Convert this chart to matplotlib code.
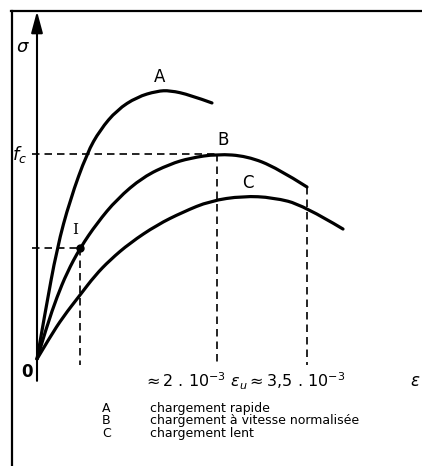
import matplotlib.pyplot as plt
from matplotlib.path import Path
from matplotlib.patches import PathPatch

# deformation (unites arbitraires, pic de B = 2) et contrainte (sigma / f_c)
eps_A = [0, 0.089, 0.222, 0.367, 0.556, 0.7, 0.889, 1.111, 1.333, 1.478, 1.7, 1.944]
sig_A = [0, 0.224, 0.541, 0.776, 1.005, 1.117, 1.215, 1.278, 1.307, 1.31, 1.288, 1.249]

eps_B = [0, 0.111, 0.222, 0.333, 0.478, 0.667, 0.889, 1.178, 1.478, 1.7, 2.0, 2.333, 2.667, 3.0]
sig_B = [0, 0.162, 0.303, 0.421, 0.541, 0.663, 0.78, 0.888, 0.951, 0.98, 1.0, 0.99, 0.932, 0.839]

eps_C = [0, 0.144, 0.289, 0.478, 0.644, 0.811, 1.033, 1.333, 1.622, 1.922, 2.289, 2.622, 2.956, 3.4]
sig_C = [0, 0.107, 0.205, 0.312, 0.407, 0.483, 0.566, 0.654, 0.717, 0.771, 0.795, 0.788, 0.751, 0.634]

eps_I, sig_I = 0.478, 0.541
eps_peak, f_c = 2.0, 1.0
eps_u, sig_u = 3.0, 0.839

legende = [("A", "chargement rapide"),
           ("B", "chargement à vitesse normalisée"),
           ("C", "chargement lent")]


def courbe_lisse(x, y):
    # spline quadratique passant par les milieux des segments
    pts = list(zip(x, y))
    verts = [pts[0]]
    codes = [Path.MOVETO]
    for i in range(1, len(pts) - 1):
        mid = ((pts[i][0] + pts[i + 1][0]) / 2, (pts[i][1] + pts[i + 1][1]) / 2)
        if i == len(pts) - 2:
            mid = pts[i + 1]
        verts += [pts[i], mid]
        codes += [Path.CURVE3, Path.CURVE3]
    return Path(verts, codes)


fig = plt.figure(figsize=(4.22, 4.66), dpi=100)
ax = fig.add_axes([0, 0, 1, 1])
ax.set_xlim(-37 / 90, 385 / 90)
ax.set_ylim(-(466 - 359) / 205, 359 / 205)
ax.axis("off")

# cadre
fig.add_artist(plt.Line2D([12 / 422, 12 / 422], [0, 1 - 11 / 466], color="black", lw=1.6))
fig.add_artist(plt.Line2D([11 / 422, 1], [1 - 11 / 466, 1 - 11 / 466], color="black", lw=1.6))

# axes avec fleches
ax.annotate("", xy=(0, 1.71), xytext=(0, -0.12),
            arrowprops=dict(arrowstyle="-|>,head_length=1.3,head_width=0.35", color="black", lw=1.5))
ax.annotate("", xy=(4.36, 0), xytext=(-0.17, 0),
            arrowprops=dict(arrowstyle="-|>,head_length=1.3,head_width=0.3", color="black", lw=1.5))

# courbes
for e, s in [(eps_A, sig_A), (eps_B, sig_B), (eps_C, sig_C)]:
    ax.add_patch(PathPatch(courbe_lisse(e, s), fill=False, color="black", lw=2.3, capstyle="round"))

# pointilles
dash = dict(color="black", lw=1.2, dashes=(4.5, 3))
ax.plot([-0.05, eps_peak], [f_c, f_c], **dash)
ax.plot([eps_peak, eps_peak], [f_c, -0.03], **dash)
ax.plot([eps_u, eps_u], [sig_u, -0.03], **dash)
ax.plot([-0.05, eps_I], [sig_I, sig_I], **dash)
ax.plot([eps_I, eps_I], [sig_I, -0.03], **dash)
ax.plot([eps_I], [sig_I], "o", color="black", ms=5, mfc="black")

# textes
ax.text(-0.16, 1.52, r"$\sigma$", fontsize=13, ha="center", va="center")
ax.text(-0.19, 1.0, r"$f_c$", fontsize=13, ha="center", va="center")
ax.text(0.422, 0.63, "I", fontsize=11, family="DejaVu Serif", ha="center", va="center")
ax.text(-0.11, -0.063, "0", fontsize=12, fontweight="bold", ha="center", va="center")
ax.text(1.367, 1.376, "A", fontsize=12, ha="center", va="center")
ax.text(2.067, 1.068, "B", fontsize=12, ha="center", va="center")
ax.text(2.344, 0.859, "C", fontsize=12, ha="center", va="center")
ax.text(1.178, -0.107, r"$\approx$2 . 10$^{-3}$ $\varepsilon_u$$\approx$3,5 . 10$^{-3}$",
        fontsize=11.5, ha="left", va="center")
ax.text(4.144, -0.105, r"$\varepsilon$", fontsize=12, ha="left", va="center")

for i, (lettre, texte) in enumerate(legende):
    y = -0.24 - i * 0.062
    ax.text(0.77, y, lettre, fontsize=9, ha="center", va="center")
    ax.text(1.256, y, texte, fontsize=9, ha="left", va="center")

fig.savefig("out.png", dpi=100)
